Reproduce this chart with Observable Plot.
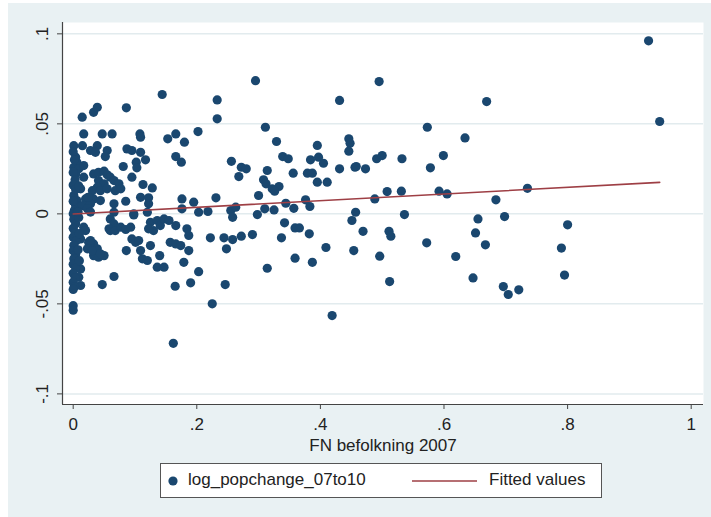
<!DOCTYPE html>
<html>
<head>
<meta charset="utf-8">
<script src="https://cdn.jsdelivr.net/npm/d3@7"></script>
<script src="https://cdn.jsdelivr.net/npm/@observablehq/plot@0.6"></script>
<style>
  html, body { margin: 0; padding: 0; background: #ffffff; }
  #wrap { position: absolute; left: 8px; top: 3px; width: 703px; height: 514px; background: #e9f1f3; }
  #chart { position: absolute; left: 0; top: 0; }
  #legend { position: absolute; left: 152px; top: 460px; width: 440px; height: 33px; background: #ffffff; border: 1px solid #555; font-family: "Liberation Sans", Arial, sans-serif; font-size: 17px; color: #222; }
  #legend span { position: absolute; top: 6px; white-space: nowrap; }
</style>
</head>
<body>
<div id="wrap"><div id="chart"></div><div id="legend"></div></div>
<script>
// Share of population (x) vs log population change 2007-2010 (y)
// points with x >= 0.2
const highShare = [
[0.295,0.074],[0.233,0.0633],[0.233,0.0528],[0.431,0.063],[0.495,0.0735],[0.669,0.0624],[0.931,0.0961],[0.949,0.0513],
[0.202,0.0457],[0.311,0.0481],[0.329,0.0402],[0.446,0.0417],[0.448,0.0392],[0.446,0.0348],[0.573,0.0481],[0.634,0.0422],
[0.256,0.0292],[0.272,0.0259],[0.280,0.025],[0.268,0.0207],[0.339,0.0318],[0.348,0.0306],[0.356,0.0226],[0.384,0.030],
[0.395,0.038],[0.397,0.0315],[0.405,0.0281],[0.379,0.0226],[0.387,0.0226],[0.395,0.0176],[0.411,0.0176],[0.431,0.025],
[0.456,0.0259],[0.314,0.0241],[0.308,0.0189],[0.312,0.0167],[0.322,0.0139],[0.333,0.0152],[0.326,0.0126],[0.300,0.0102],
[0.231,0.0089],[0.376,0.0078],[0.383,0.0041],[0.344,0.0059],[0.357,0.0031],[0.203,0.0009],[0.218,0.0013],[0.255,0.0018],
[0.263,0.0037],[0.310,0.0028],[0.325,0.0022],[0.298,-0.0004],[0.491,0.0306],[0.500,0.0324],[0.532,0.0306],[0.599,0.0324],
[0.458,0.0263],[0.473,0.025],[0.578,0.0256],[0.508,0.0124],[0.531,0.0126],[0.488,0.0083],[0.592,0.0126],[0.605,0.0111],
[0.735,0.0142],[0.684,0.0078],[0.457,0.0009],[0.536,-0.0004],
[0.258,-0.0019],[0.342,-0.005],[0.359,-0.0078],[0.366,-0.0078],[0.382,-0.0111],[0.337,-0.0133],[0.222,-0.0133],[0.244,-0.0133],
[0.258,-0.0143],[0.272,-0.0124],[0.290,-0.0115],[0.248,-0.0194],[0.359,-0.0246],[0.387,-0.0269],[0.409,-0.0187],[0.314,-0.0302],
[0.203,-0.0321],[0.246,-0.0393],[0.225,-0.050],[0.419,-0.0565],[0.451,-0.0037],[0.454,-0.0204],[0.655,-0.0028],[0.698,-0.0015],
[0.469,-0.0097],[0.511,-0.0097],[0.514,-0.0124],[0.651,-0.0106],[0.572,-0.0161],[0.667,-0.0172],[0.496,-0.0235],[0.619,-0.0237],
[0.512,-0.0376],[0.647,-0.0356],[0.696,-0.0404],[0.704,-0.0448],[0.721,-0.0422],[0.800,-0.0061],[0.790,-0.019],[0.795,-0.034]
];
// points with 0.06 <= x < 0.2
const midShare = [
[0.144,0.0663],[0.086,0.0589],[0.108,0.0444],[0.109,0.0426],[0.153,0.0417],[0.166,0.0444],[0.180,0.0398],[0.166,0.0318],
[0.175,0.0287],[0.087,0.0361],[0.095,0.0352],[0.109,0.0342],[0.117,0.030],[0.102,0.0287],[0.103,0.0256],[0.081,0.0263],
[0.095,0.0204],[0.113,0.0163],[0.128,0.0144],[0.066,0.0185],[0.074,0.0167],[0.068,0.0129],[0.077,0.0139],[0.066,0.0056],
[0.085,0.007],[0.109,0.0092],[0.122,0.0089],[0.122,0.0056],[0.176,0.0083],[0.195,0.0065],[0.176,0.0028],[0.066,0.0009],
[0.098,0.0],[0.120,0.0009],[0.063,0.0444],
[0.060,-0.0028],[0.066,-0.0056],[0.058,-0.0083],[0.068,-0.0093],[0.077,-0.0074],[0.085,-0.0087],[0.093,-0.0074],[0.095,-0.0139],
[0.101,-0.0158],[0.106,-0.0148],[0.086,-0.0204],[0.109,-0.0204],[0.112,-0.025],[0.120,-0.0259],[0.125,-0.0047],[0.136,-0.0037],
[0.141,-0.0065],[0.147,-0.0028],[0.155,-0.0037],[0.166,-0.0065],[0.130,-0.0093],[0.122,-0.0083],[0.184,-0.0083],[0.187,-0.012],
[0.125,-0.0176],[0.140,-0.0232],[0.136,-0.0296],[0.147,-0.0296],[0.157,-0.0158],[0.166,-0.0167],[0.174,-0.0176],[0.187,-0.0204],
[0.179,-0.0269],[0.165,-0.0402],[0.190,-0.0383],[0.162,-0.0719],[0.066,-0.0348],[0.098,-0.0006]
];
// points with x < 0.06
const lowShare = [
[0.0146,0.0537],[0.033,0.0564],[0.039,0.0592],[0.017,0.0444],[0.047,0.0444],[0.001,0.0379],[0.015,0.0379],[0.028,0.0352],
[0.039,0.0379],[0.036,0.0342],[0.055,0.0352],[0.052,0.0318],[0.004,0.0315],[0.006,0.0287],[0.001,0.0259],[0.009,0.025],
[0.004,0.0222],[0.017,0.0268],[0.017,0.0204],[0.033,0.0222],[0.041,0.0231],[0.050,0.0237],[0.055,0.0217],[0.060,0.0204],
[0.041,0.0185],[0.050,0.0167],[0.039,0.0148],[0.031,0.0129],[0.044,0.0129],[0.055,0.0139],[0.001,0.0102],[0.006,0.0074],
[0.020,0.0083],[0.004,0.0046],[0.015,0.0046],[0.033,0.0083],[0.028,0.0056],[0.023,0.0028],[0.012,0.0139],[0.024,0.0092],
[0.044,0.0074],[0.028,0.001],
[0.017,-0.0074],[0.012,-0.0139],[0.012,-0.0306],[0.009,-0.0352],[0.012,-0.0398],[0.025,-0.0158],[0.033,-0.0167],[0.039,-0.0194],
[0.033,-0.0232],[0.041,-0.0241],[0.050,-0.0232],[0.023,-0.0194],[0.031,-0.0204],[0.047,-0.0393],[0.020,-0.0093],[0.028,-0.0148],
[0.044,-0.0222],[0.060,-0.0093],
[0.000,0.0345],[0.002,0.030],[0.000,0.023],[0.003,0.019],[0.000,0.016],[0.004,0.0135],[0.000,0.007],[0.002,0.002],
[0.000,0.000],[0.006,0.001],[0.001,-0.003],[0.004,-0.0055],[0.000,-0.008],[0.003,-0.0105],[0.000,-0.013],[0.005,-0.015],
[0.001,-0.0175],[0.000,-0.0205],[0.004,-0.0225],[0.001,-0.025],[0.000,-0.028],[0.004,-0.030],[0.000,-0.033],[0.003,-0.0355],
[0.000,-0.038],[0.002,-0.0405],[0.000,-0.042],[0.009,-0.002],[0.010,-0.011],[0.008,-0.020],[0.010,-0.026],[0.009,0.0155],
[0.008,0.001],[0.000,-0.051],[0.000,-0.0535]
];
// fitted regression line (endpoints)
const fitX = [0, 0.949];
const fitY = [-0.0001, 0.0175];
const xTicks = [0, 0.2, 0.4, 0.6, 0.8, 1];
const yTicks = [-0.1, -0.05, 0, 0.05, 0.1];
const xDomain = [-0.0173, 1.0199];
const yDomain = [-0.1059, 0.1063];
const xLabel = "FN befolkning 2007";
const seriesNames = ["log_popchange_07to10", "Fitted values"];
const navy = "#1a476f";
const maroon = "#9e3f45";

const points = [...lowShare, ...midShare, ...highShare].map(([x, y]) => ({x, y}));
const fit = fitX.map((x, i) => ({x, y: fitY[i]}));
const fmt = d => d === 0 ? "0" : String(d).replace("0.", ".");
const font = "'Liberation Sans', Arial, sans-serif";

const chart = Plot.plot({
  width: 703,
  height: 458,
  marginLeft: 54,
  marginRight: 8,
  marginTop: 19,
  marginBottom: 57,
  style: {background: "transparent", fontFamily: font, fontSize: "17px", color: "#222"},
  x: {domain: xDomain},
  y: {domain: yDomain},
  marks: [
    Plot.frame({fill: "white", stroke: null}),
    Plot.gridY(yTicks, {stroke: "#e2ebee", strokeOpacity: 1, strokeWidth: 1.5}),
    Plot.dot(points, {x: "x", y: "y", r: 4.6, fill: navy, stroke: null}),
    Plot.line(fit, {x: "x", y: "y", stroke: maroon, strokeWidth: 1.6}),
    Plot.ruleX([xDomain[0]], {stroke: "#444", strokeWidth: 1.2}),
    Plot.ruleY([yDomain[0]], {stroke: "#444", strokeWidth: 1.2}),
    Plot.axisX({ticks: xTicks, tickSize: 5, tickPadding: 8, tickFormat: fmt, label: xLabel,
      labelAnchor: "center", labelArrow: "none", labelOffset: 46, fontSize: 17, stroke: "#444"}),
    Plot.axisY({ticks: yTicks, tickSize: 5, tickFormat: () => "", label: null, stroke: "#444"}),
    Plot.text(yTicks, {y: d => d, text: fmt, frameAnchor: "left", rotate: -90,
      textAnchor: "middle", lineAnchor: "bottom", dx: -15, fontSize: 17, fill: "#222"})
  ]
});
document.getElementById("chart").appendChild(chart);

// legend
const lg = document.getElementById("legend");
lg.innerHTML = `
  <svg width="440" height="33" style="position:absolute;left:0;top:0">
    <circle cx="12" cy="17" r="4.6" fill="${navy}"></circle>
    <line x1="251" x2="316" y1="17" y2="17" stroke="${maroon}" stroke-width="1.6"></line>
  </svg>
  <span style="left:27px">${seriesNames[0]}</span>
  <span style="left:328px">${seriesNames[1]}</span>`;
</script>
</body>
</html>
